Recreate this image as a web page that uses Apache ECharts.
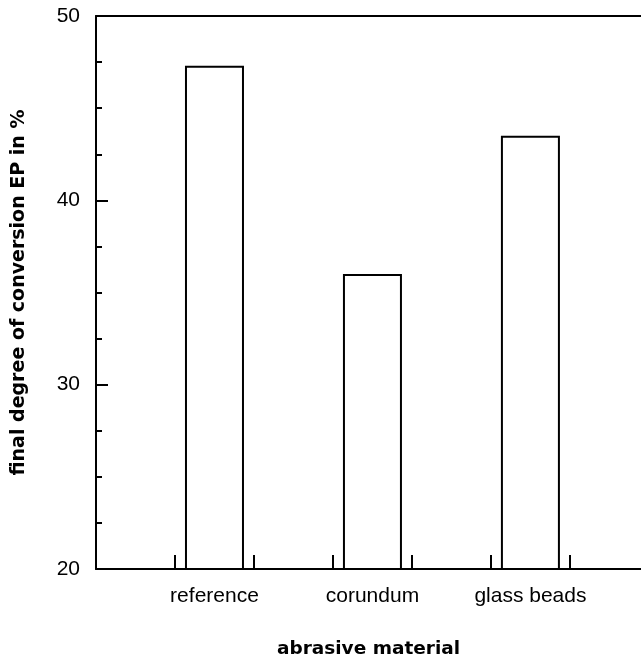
<!DOCTYPE html>
<html>
<head>
<meta charset="utf-8">
<script src="https://cdn.jsdelivr.net/npm/echarts@6/dist/echarts.min.js"></script>
<style>
  html, body { margin: 0; padding: 0; background: #fff; }
  #chart { width: 641px; height: 659px; }
</style>
</head>
<body>
<div id="chart"></div>
<script>
// Abrasive materials and the final degree of conversion (EP) for each
const categories = ['reference', 'corundum', 'glass beads'];
const positions = [1, 2, 3];
const conversion = [47.3, 36.0, 43.5];
const yTicks = [20, 30, 40, 50];
const xTickMarks = [0.75, 1.25, 1.75, 2.25, 2.75, 3.25];

const labelFont = 'Liberation Sans, Arial, sans-serif';
const titleFont = 'DejaVu Sans, Verdana, sans-serif';

const chart = echarts.init(document.getElementById('chart'), null, { renderer: 'canvas' });

chart.setOption({
  backgroundColor: '#ffffff',
  animation: false,
  grid: {
    left: 96, right: 0, top: 16, bottom: 90,
    containLabel: false,
    outerBoundsMode: 'none'
  },
  xAxis: [
    {
      type: 'value',
      min: 0.25,
      max: 3.7,
      position: 'bottom',
      axisLine: { show: true, lineStyle: { color: '#000', width: 2 } },
      axisTick: {
        show: true, inside: true, length: 14,
        customValues: xTickMarks,
        lineStyle: { color: '#000', width: 2 }
      },
      axisLabel: {
        show: true,
        customValues: positions,
        formatter: (v) => categories[positions.indexOf(Math.round(v))] || '',
        color: '#000', fontSize: 21, fontFamily: labelFont, margin: 17
      },
      splitLine: { show: false },
      name: 'abrasive material',
      nameLocation: 'middle',
      nameGap: 71,
      nameTextStyle: { color: '#000', fontSize: 18.5, fontWeight: 'bold', fontFamily: titleFont }
    },
    {
      type: 'value',
      min: 0.25,
      max: 3.7,
      position: 'top',
      axisLine: { show: true, lineStyle: { color: '#000', width: 2 } },
      axisTick: { show: false },
      axisLabel: { show: false },
      splitLine: { show: false }
    }
  ],
  yAxis: {
    type: 'value',
    min: yTicks[0],
    max: yTicks[yTicks.length - 1],
    interval: 10,
    axisLine: { show: true, lineStyle: { color: '#000', width: 2 } },
    axisTick: { show: true, inside: true, length: 12, lineStyle: { color: '#000', width: 2 } },
    minorTick: { show: true, splitNumber: 4, length: 6, lineStyle: { color: '#000', width: 2 } },
    axisLabel: { color: '#000', fontSize: 21, fontFamily: labelFont, margin: 16 },
    splitLine: { show: false },
    name: 'final degree of conversion EP in %',
    nameLocation: 'middle',
    nameGap: 67,
    nameTextStyle: { color: '#000', fontSize: 19, fontWeight: 'bold', fontFamily: titleFont }
  },
  series: [{
    type: 'bar',
    xAxisIndex: 0,
    barWidth: 59,
    data: positions.map((p, i) => [p, conversion[i]]),
    itemStyle: { color: '#ffffff', borderColor: '#000', borderWidth: 2 },
    clip: true
  }]
});
</script>
</body>
</html>
